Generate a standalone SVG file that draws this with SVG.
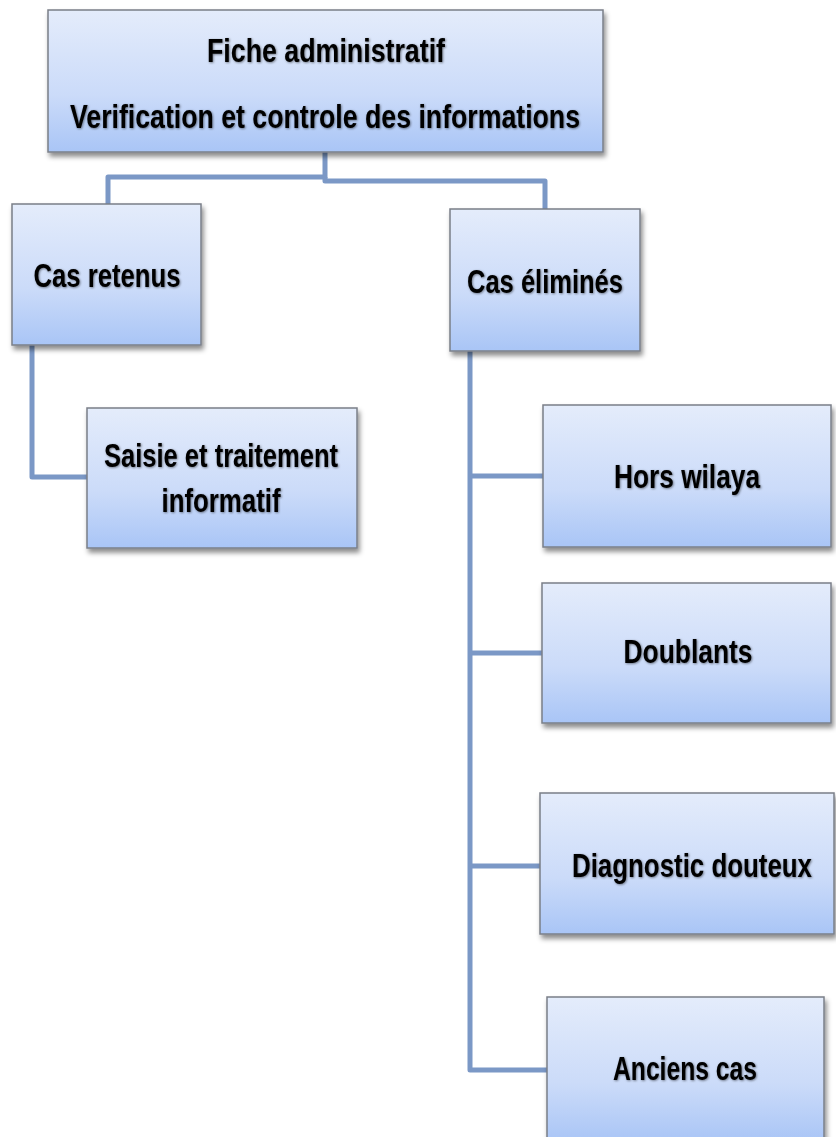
<svg xmlns="http://www.w3.org/2000/svg" width="836" height="1137" viewBox="0 0 836 1137">
<defs>
<linearGradient id="g" x1="0" y1="0" x2="0" y2="1">
<stop offset="0" stop-color="#e4ecfb"/>
<stop offset="0.6" stop-color="#cbdbf9"/>
<stop offset="1" stop-color="#a9c5f6"/>
</linearGradient>
<filter id="sh" x="-10%" y="-10%" width="125%" height="130%">
<feDropShadow dx="2" dy="4" stdDeviation="2.5" flood-color="#000" flood-opacity="0.45"/>
</filter>
<filter id="ts" x="-5%" y="-20%" width="110%" height="140%">
<feDropShadow dx="0.8" dy="0.8" stdDeviation="0.8" flood-color="#000" flood-opacity="0.5"/>
</filter>
<style>
.box{fill:url(#g);stroke:#7a7f88;stroke-width:1.5;filter:url(#sh)}
.t{font-family:"Liberation Sans",Arial,sans-serif;font-weight:bold;font-size:33px;fill:#000;text-anchor:middle;filter:url(#ts)}
.c{fill:none;stroke:#7b98c6;stroke-width:5;stroke-linejoin:round}
</style>
</defs>
<g id="connectors">
<polyline class="c" points="325,152 325,177 108,177 108,205"/>
<polyline class="c" points="325,177 325,181 545,181 545,210"/>
<polyline class="c" points="32,345 32,477 88,477"/>
<polyline class="c" points="470,351 470,1070 547,1070"/>
<line class="c" x1="470" y1="476" x2="543" y2="476"/>
<line class="c" x1="470" y1="653" x2="542" y2="653"/>
<line class="c" x1="470" y1="866" x2="540" y2="866"/>
</g>
<g id="n-fiche">
<rect class="box" x="48" y="10" width="555" height="142"/>
<text class="t" x="326" y="62" textLength="238" lengthAdjust="spacingAndGlyphs">Fiche administratif</text>
<text class="t" x="325" y="128" textLength="510" lengthAdjust="spacingAndGlyphs">Verification et controle des informations</text>
</g>
<g id="n-retenus">
<rect class="box" x="12" y="204" width="189" height="141"/>
<text class="t" x="107" y="287" textLength="147" lengthAdjust="spacingAndGlyphs">Cas retenus</text>
</g>
<g id="n-saisie">
<rect class="box" x="87" y="408" width="270" height="140"/>
<text class="t" x="221" y="467" textLength="234" lengthAdjust="spacingAndGlyphs">Saisie et traitement</text>
<text class="t" x="221" y="512" textLength="119" lengthAdjust="spacingAndGlyphs">informatif</text>
</g>
<g id="n-elimines">
<rect class="box" x="450" y="209" width="190" height="142"/>
<text class="t" x="545" y="293" textLength="156" lengthAdjust="spacingAndGlyphs">Cas éliminés</text>
</g>
<g id="n-hors">
<rect class="box" x="543" y="405" width="288" height="142"/>
<text class="t" x="687" y="488" textLength="146" lengthAdjust="spacingAndGlyphs">Hors wilaya</text>
</g>
<g id="n-doublants">
<rect class="box" x="542" y="583" width="289" height="140"/>
<text class="t" x="688" y="663" textLength="129" lengthAdjust="spacingAndGlyphs">Doublants</text>
</g>
<g id="n-diagnostic">
<rect class="box" x="540" y="793" width="294" height="141"/>
<text class="t" x="692" y="877" textLength="240" lengthAdjust="spacingAndGlyphs">Diagnostic douteux</text>
</g>
<g id="n-anciens">
<rect class="box" x="547" y="997" width="277" height="145"/>
<text class="t" x="685" y="1080" textLength="144" lengthAdjust="spacingAndGlyphs">Anciens cas</text>
</g>
</svg>
